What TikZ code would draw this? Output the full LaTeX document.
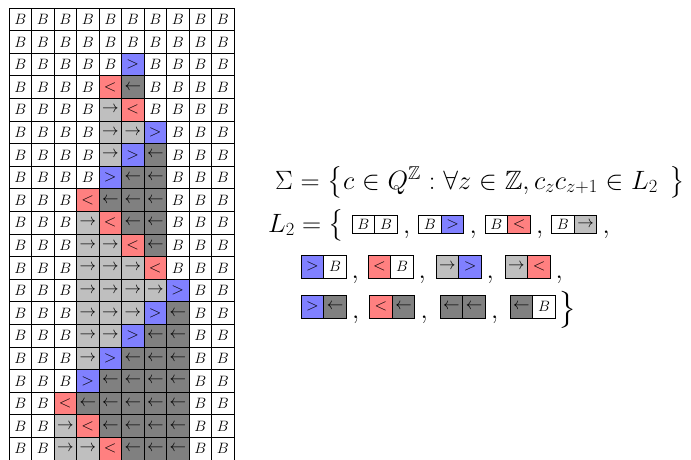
\RequirePackage{fix-cm}
\documentclass[tikz,border=0pt]{standalone}
\usepackage{amsmath,amssymb}
\definecolor{gtblue}{HTML}{8080FF}
\definecolor{ltred}{HTML}{FF8080}
\definecolor{rlight}{HTML}{BFBFBF}
\definecolor{ldark}{HTML}{808080}
\newcommand\symsize{\fontsize{16.5}{19}\selectfont}
\newcommand\txtB{\fontsize{15}{17}\selectfont$B$}
\newcommand\txtG{\symsize$>$}
\newcommand\txtR{\symsize$<$}
\newcommand\txtr{\symsize$\rightarrow$}
\newcommand\txtl{\symsize$\leftarrow$}
\begin{document}
\begin{tikzpicture}[x=1pt,y=-1pt,
  cellbase/.style={draw=black, line width=0.9pt, inner sep=0pt, minimum width=22.5pt, minimum height=22.6pt},
  cB/.style={cellbase, fill=white},
  cG/.style={cellbase, fill=gtblue},
  cR/.style={cellbase, fill=ltred},
  cr/.style={cellbase, fill=rlight},
  cl/.style={cellbase, fill=ldark},
  cell/.style={c#1},
  tileshort/.style={minimum width=22.7pt, minimum height=18pt},
  tiletall/.style={minimum width=22.7pt, minimum height=23pt},
  formula/.style={font=\fontsize{26.5}{30}\selectfont, inner sep=0pt},
]
\useasboundingbox (0,0) rectangle (691,460);
% grid
\foreach \rowlist [count=\i] in {
 {B,B,B,B,B,B,B,B,B,B},
 {B,B,B,B,B,B,B,B,B,B},
 {B,B,B,B,B,G,B,B,B,B},
 {B,B,B,B,R,l,B,B,B,B},
 {B,B,B,B,r,R,B,B,B,B},
 {B,B,B,B,r,r,G,B,B,B},
 {B,B,B,B,r,G,l,B,B,B},
 {B,B,B,B,G,l,l,B,B,B},
 {B,B,B,R,l,l,l,B,B,B},
 {B,B,B,r,R,l,l,B,B,B},
 {B,B,B,r,r,R,l,B,B,B},
 {B,B,B,r,r,r,R,B,B,B},
 {B,B,B,r,r,r,r,G,B,B},
 {B,B,B,r,r,r,G,l,B,B},
 {B,B,B,r,r,G,l,l,B,B},
 {B,B,B,r,G,l,l,l,B,B},
 {B,B,B,G,l,l,l,l,B,B},
 {B,B,R,l,l,l,l,l,B,B},
 {B,B,r,R,l,l,l,l,B,B},
 {B,B,r,r,R,l,l,l,B,B}}{
  \foreach \c [count=\j] in \rowlist {
    \node[cell/.expanded=\c] (g\i-\j) at ({9+22.5*(\j-0.5)},{8+22.6*(\i-0.5)}) {\csname txt\c\endcsname};
  }
}
% formula line 1
\node[formula, anchor=base west] (sigma) at (275,189)
  {\hbox to 410pt{$\Sigma = \bigl\{c \in Q^{\mathbb{Z}} : \forall z \in \mathbb{Z}, c_z c_{z+1} \in L_2\hspace{0.45em}\bigr\}$}};
% line 2
\node[formula, anchor=base west] (ltwo) at (268,232) {\hbox to 75pt{$L_2 = \bigl\{$}};
% row 2 tiles
\foreach \a/\b/\x [count=\k] in {B/B/352, B/G/418.5, B/R/485, B/r/551.5}{
  \node[cell/.expanded=\a, tileshort] (ta\k) at (\x+11.35,224) {\csname txt\a\endcsname};
  \node[cell/.expanded=\b, tileshort] (tb\k) at (\x+34.05,224) {\csname txt\b\endcsname};
  \node[formula, anchor=base west] (ca\k) at (\x+51,233) {$,$};
}
% row 3 tiles
\foreach \a/\b/\x [count=\k] in {G/B/301, R/B/368, r/G/436, r/R/505}{
  \node[cell/.expanded=\a, tiletall] (tc\k) at (\x+11.35,266.7) {\csname txt\a\endcsname};
  \node[cell/.expanded=\b, tiletall] (td\k) at (\x+34.05,266.7) {\csname txt\b\endcsname};
  \node[formula, anchor=base west] (cb\k) at (\x+50.5,278.3) {$,$};
}
% row 4 tiles
\foreach \a/\b/\x [count=\k] in {G/l/301, R/l/369.5, l/l/440, l/B/510}{
  \node[cell/.expanded=\a, tiletall] (te\k) at (\x+11.35,306.7) {\csname txt\a\endcsname};
  \node[cell/.expanded=\b, tiletall] (tf\k) at (\x+34.05,306.7) {\csname txt\b\endcsname};
}
\foreach \x [count=\k] in {301, 369.5, 440}{
  \node[formula, anchor=base west] (cc\k) at (\x+51,318.3) {$,$};
}
\node[formula, font=\fontsize{31}{38}\selectfont] (close) at (568,309.5) {$\bigr\}$};
\end{tikzpicture}
\end{document}
